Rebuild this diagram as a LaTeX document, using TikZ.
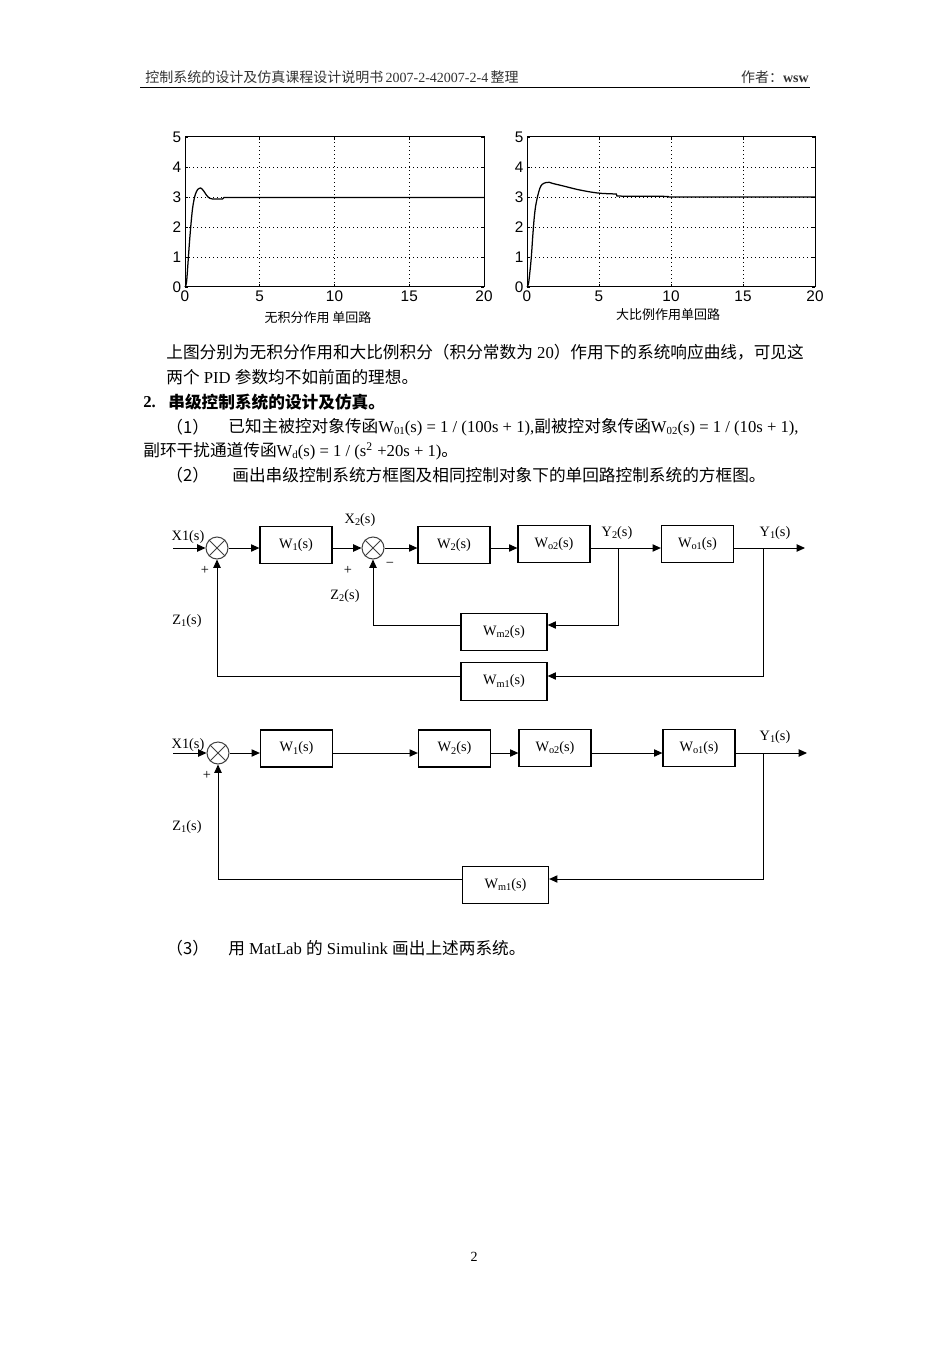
\documentclass[tikz,border=0pt]{standalone}
\usepackage{fontspec}
\setmainfont{Liberation Serif}
\newfontfamily\cjk{Noto Sans CJK SC}
\newfontfamily\plotfont{Liberation Sans}
\usetikzlibrary{arrows.meta}
\newcommand\lsub[2][6.2]{\raisebox{-0.35ex}{\fontsize{#1}{#1}\selectfont #2}}
\begin{document}
\begin{tikzpicture}[x=0.6pt,y=-0.6pt,
  blk/.style={draw, line width=0.75pt, inner sep=0pt, font=\fontsize{8.6}{10}\selectfont},
  blkA/.style={blk, minimum width=43.2pt, minimum height=22.2pt},
  blkB/.style={blk, minimum width=51.6pt, minimum height=22.4pt},
  sumj/.style={draw=black!75, circle, line width=0.6pt, minimum size=13.2pt, inner sep=0pt},
  wire/.style={line width=0.6pt},
  arr/.style={wire, -{Triangle[length=5pt,width=4.4pt]}},
  lbl/.style={inner sep=0pt, font=\fontsize{8.6}{10}\selectfont},
  body/.style={anchor=west, inner sep=0pt, font=\fontsize{10}{12}\selectfont},
  tick/.style={font=\plotfont\fontsize{9.2}{10}\selectfont, inner sep=1pt},
  grd/.style={line width=0.55pt, dash pattern=on 0.6pt off 1.8pt},
]
\useasboundingbox[fill=white] (0,0) rectangle (950,1345);

% header
\node[anchor=west, inner sep=0pt, text=black!80, font=\fontsize{8.4}{10}\selectfont] (hd) at (145,77)
  {{\cjk 控制系统的设计及仿真课程设计说明书}\,2007-2-42007-2-4\,{\cjk 整理}};
\node[anchor=east, inner sep=0pt, text=black!80, font=\fontsize{8.4}{10}\selectfont] (au) at (809,77)
  {{\cjk 作者：}\textbf{wsw}};
\draw[line width=0.6pt] (140,88) -- (810,88);

% ---------- left plot
\begin{scope}[shift={(185,287)}, xscale=14.95, yscale=-30]
  \foreach \t in {5,10,15} \draw[grd] (\t,0) -- (\t,5);
  \foreach \v in {1,2,3,4} \draw[grd] (0,\v) -- (20,\v);
  \draw[line width=0.6pt] (0,0) rectangle (20,5);
  \foreach \t in {0,5,10,15,20} {
    \draw[line width=0.5pt] (\t,0) -- (\t,0.1) (\t,5) -- (\t,4.9);
    \node[tick, anchor=north] (lx\t) at (\t,-0.05) {\t};
  }
  \foreach \v in {0,1,2,3,4,5} {
    \draw[line width=0.5pt] (0,\v) -- (0.2,\v) (20,\v) -- (19.8,\v);
    \node[tick, anchor=east] (ly\v) at (-0.12,\v) {\v};
  }
  \draw[line width=0.75pt] plot[smooth, tension=0.5] coordinates {(0,0) (0.1,0.15) (0.2,0.8) (0.3,1.5) (0.4,2.1) (0.5,2.6) (0.6,2.9) (0.7,3.1) (0.85,3.25) (1.05,3.3) (1.25,3.2) (1.45,3.05) (1.65,2.96) (1.9,2.93)} -- (2.5,2.93) -- (2.6,2.98) -- (20,2.98);
\end{scope}
\node[font=\cjk\fontsize{7.8}{9}\selectfont, inner sep=0pt] (cap1) at (318,318) {无积分作用 单回路};

% ---------- right plot
\begin{scope}[shift={(527,287)}, xscale=14.4, yscale=-30]
  \foreach \t in {5,10,15} \draw[grd] (\t,0) -- (\t,5);
  \foreach \v in {1,2,3,4} \draw[grd] (0,\v) -- (20,\v);
  \draw[line width=0.6pt] (0,0) rectangle (20,5);
  \foreach \t in {0,5,10,15,20} {
    \draw[line width=0.5pt] (\t,0) -- (\t,0.1) (\t,5) -- (\t,4.9);
    \node[tick, anchor=north] (rx\t) at (\t,-0.05) {\t};
  }
  \foreach \v in {0,1,2,3,4,5} {
    \draw[line width=0.5pt] (0,\v) -- (0.2,\v) (20,\v) -- (19.8,\v);
    \node[tick, anchor=east] (ry\v) at (-0.12,\v) {\v};
  }
  \draw[line width=0.75pt] plot[smooth, tension=0.5] coordinates {(0,0) (0.1,0.1) (0.2,0.5) (0.3,1.0) (0.4,1.7) (0.5,2.3) (0.6,2.7) (0.75,3.05) (0.9,3.3) (1.05,3.42) (1.3,3.48) (1.55,3.49) (1.8,3.45) (2.5,3.37) (3.5,3.25) (4.5,3.16) (5.2,3.12) (6.2,3.1)} -- (6.25,3.03) -- (9.8,3.02) -- (9.85,3.0) -- (20,3.0);
\end{scope}
\node[font=\cjk\fontsize{7.8}{9}\selectfont, inner sep=0pt] (cap2) at (668,315) {大比例作用单回路};

% ---------- body text
\node[body] (t1) at (166,352) {{\cjk 上图分别为无积分作用和大比例积分（积分常数为}~20{\cjk ）作用下的系统响应曲线，可见这}};
\node[body] (t2) at (166,377) {{\cjk 两个}~PID~{\cjk 参数均不如前面的理想。}};
\node[body] (t3a) at (143,402) {\textbf{2.}};
\node[body] (t3b) at (168,402) {{\cjk\bfseries 串级控制系统的设计及仿真。}};
\node[body] (t4a) at (166,427) {{\cjk （1）}};
\node[body] (t4b) at (228,427) {{\cjk 已知主被控对象传函}W\lsub[6.5]{01}(s) = 1 / (100s + 1),{\cjk 副被控对象传函}W\lsub[6.5]{02}(s) = 1 / (10s + 1),};
\node[body] (t5) at (143,451) {{\cjk 副环干扰通道传函}W\lsub[6.5]{d}(s) = 1 / (s\textsuperscript{2} +20s + 1){\cjk 。}};
\node[body] (t6a) at (166,475) {{\cjk （2）}};
\node[body] (t6b) at (232,475) {{\cjk 画出串级控制系统方框图及相同控制对象下的单回路控制系统的方框图。}};

% ---------- diagram 1 (cascade)
\node[sumj] (s1) at (217,548) {};
\node[sumj] (s2) at (373,548) {};
\foreach \s in {s1,s2} \draw[wire, black!75] (\s.north east) -- (\s.south west) (\s.north west) -- (\s.south east);
\node[blkA] (W1) at (296,545) {W\lsub{1}(s)};
\node[blkA] (W2) at (454,545) {W\lsub{2}(s)};
\node[blkA] (Wo2) at (554,544) {W\lsub{o2}(s)};
\node[blkA] (Wo1) at (697.5,544) {W\lsub{o1}(s)};
\node[blkB] (Wm2) at (504,632) {W\lsub{m2}(s)};
\node[blkB] (Wm1) at (504,681.5) {W\lsub{m1}(s)};
\coordinate (in1) at (173,548);
\coordinate (b2) at (618,548);
\coordinate (b2d) at (618,625);
\coordinate (b1) at (763,548);
\coordinate (b1d) at (763,676);
\coordinate (out1) at (805,548);
\draw[arr] (in1) -- (s1.west);
\draw[arr] (s1.east) -- (s1.east -| W1.west);
\draw[arr] (W1.east |- s2) -- (s2.west);
\draw[arr] (s2.east) -- (s2.east -| W2.west);
\draw[arr] (W2.east |- s2) -- (Wo2.west |- s2);
\draw[wire] (Wo2.east |- s2) -- (b2);
\draw[arr] (b2) -- (Wo1.west |- b2);
\draw[arr] (Wo1.east |- b1) -- (out1);
\draw[arr] (b2) -- (b2d) -- (Wm2.east |- b2d);
\draw[arr] (Wm2.west |- b2d) -- (s2 |- b2d) -- (s2.south);
\draw[arr] (b1) -- (b1d) -- (Wm1.east |- b1d);
\draw[arr] (Wm1.west |- b1d) -- (s1 |- b1d) -- (s1.south);
\node[lbl] (lx1) at (188,537) {X1(s)};
\node[lbl] (lp1) at (205,570) {+};
\node[lbl] (lx2) at (360,520) {X\lsub{2}(s)};
\node[lbl] (lp2) at (348,570) {+};
\node[lbl] (lm2) at (390,565) {\textminus};
\node[lbl] (lz2) at (345,596) {Z\lsub{2}(s)};
\node[lbl] (lz1) at (187,621) {Z\lsub{1}(s)};
\node[lbl] (ly2) at (617,533) {Y\lsub{2}(s)};
\node[lbl] (ly1) at (775,533) {Y\lsub{1}(s)};

% ---------- diagram 2 (single loop)
\node[sumj] (s1b) at (218,753) {};
\draw[wire, black!75] (s1b.north east) -- (s1b.south west) (s1b.north west) -- (s1b.south east);
\node[blkA] (W1b) at (296.5,748.5) {W\lsub{1}(s)};
\node[blkA] (W2b) at (454.5,748.5) {W\lsub{2}(s)};
\node[blkA] (Wo2b) at (555,748) {W\lsub{o2}(s)};
\node[blkA] (Wo1b) at (699,748) {W\lsub{o1}(s)};
\node[blkB] (Wm1b) at (505.5,885) {W\lsub{m1}(s)};
\coordinate (in2) at (173,753);
\coordinate (c1) at (763,753);
\coordinate (c1d) at (763,879);
\coordinate (out2) at (807,753);
\draw[arr] (in2) -- (s1b.west);
\draw[arr] (s1b.east) -- (s1b.east -| W1b.west);
\draw[arr] (W1b.east |- s1b) -- (W2b.west |- s1b);
\draw[arr] (W2b.east |- s1b) -- (Wo2b.west |- s1b);
\draw[arr] (Wo2b.east |- s1b) -- (Wo1b.west |- s1b);
\draw[arr] (Wo1b.east |- c1) -- (out2);
\draw[arr] (c1) -- (c1d) -- (Wm1b.east |- c1d);
\draw[arr] (Wm1b.west |- c1d) -- (s1b |- c1d) -- (s1b.south);
\node[lbl] (lx1b) at (188,745) {X1(s)};
\node[lbl] (lp1b) at (207,775) {+};
\node[lbl] (lz1b) at (187,827) {Z\lsub{1}(s)};
\node[lbl] (ly1b) at (775,737) {Y\lsub{1}(s)};

% ---------- item 3 and page number
\node[body] (t7a) at (166,948) {{\cjk （3）}};
\node[body] (t7b) at (228,948) {{\cjk 用}~MatLab~{\cjk 的}~Simulink~{\cjk 画出上述两系统。}};
\node[inner sep=0pt, font=\fontsize{8.4}{10}\selectfont] (pg) at (474,1257) {2};
\end{tikzpicture}
\end{document}
